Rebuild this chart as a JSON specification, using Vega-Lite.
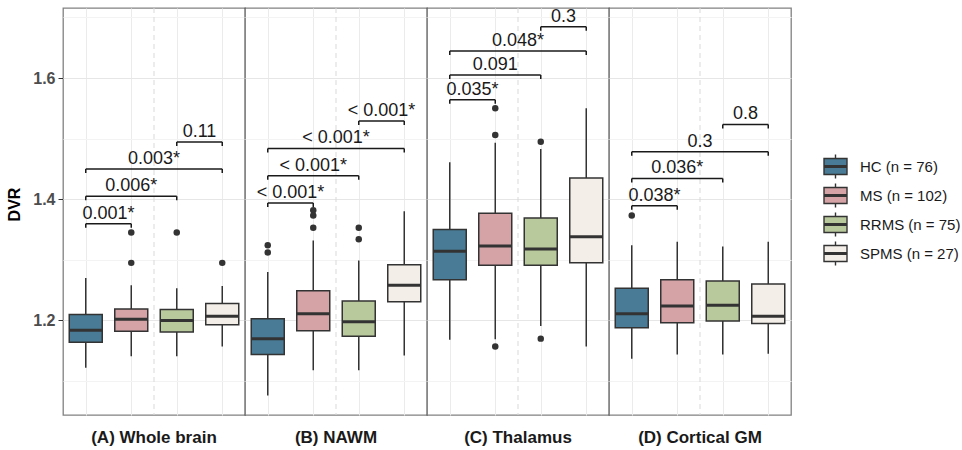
{
  "$schema": "https://vega.github.io/schema/vega-lite/v6.json",
  "background": "white",
  "padding": {"left": 6, "top": 6, "right": 0, "bottom": 0},
  "bounds": "flush",
  "data": {"values": [
    {"region": "(A) Whole brain", "kind": "box", "group": "HC", "lower": 1.122, "q1": 1.164, "median": 1.184, "q3": 1.210, "upper": 1.270},
    {"region": "(A) Whole brain", "kind": "box", "group": "MS", "lower": 1.141, "q1": 1.182, "median": 1.202, "q3": 1.219, "upper": 1.258},
    {"region": "(A) Whole brain", "kind": "box", "group": "RRMS", "lower": 1.141, "q1": 1.181, "median": 1.200, "q3": 1.218, "upper": 1.253},
    {"region": "(A) Whole brain", "kind": "box", "group": "SPMS", "lower": 1.157, "q1": 1.193, "median": 1.207, "q3": 1.228, "upper": 1.257},
    {"region": "(B) NAWM", "kind": "box", "group": "HC", "lower": 1.076, "q1": 1.144, "median": 1.170, "q3": 1.203, "upper": 1.280},
    {"region": "(B) NAWM", "kind": "box", "group": "MS", "lower": 1.118, "q1": 1.183, "median": 1.211, "q3": 1.249, "upper": 1.332},
    {"region": "(B) NAWM", "kind": "box", "group": "RRMS", "lower": 1.118, "q1": 1.174, "median": 1.198, "q3": 1.232, "upper": 1.299},
    {"region": "(B) NAWM", "kind": "box", "group": "SPMS", "lower": 1.142, "q1": 1.231, "median": 1.258, "q3": 1.292, "upper": 1.380},
    {"region": "(C) Thalamus", "kind": "box", "group": "HC", "lower": 1.168, "q1": 1.267, "median": 1.314, "q3": 1.350, "upper": 1.461},
    {"region": "(C) Thalamus", "kind": "box", "group": "MS", "lower": 1.169, "q1": 1.291, "median": 1.323, "q3": 1.377, "upper": 1.493},
    {"region": "(C) Thalamus", "kind": "box", "group": "RRMS", "lower": 1.191, "q1": 1.291, "median": 1.318, "q3": 1.369, "upper": 1.483},
    {"region": "(C) Thalamus", "kind": "box", "group": "SPMS", "lower": 1.157, "q1": 1.295, "median": 1.338, "q3": 1.435, "upper": 1.550},
    {"region": "(D) Cortical GM", "kind": "box", "group": "HC", "lower": 1.137, "q1": 1.188, "median": 1.211, "q3": 1.253, "upper": 1.324},
    {"region": "(D) Cortical GM", "kind": "box", "group": "MS", "lower": 1.144, "q1": 1.196, "median": 1.224, "q3": 1.267, "upper": 1.330},
    {"region": "(D) Cortical GM", "kind": "box", "group": "RRMS", "lower": 1.144, "q1": 1.199, "median": 1.225, "q3": 1.265, "upper": 1.322},
    {"region": "(D) Cortical GM", "kind": "box", "group": "SPMS", "lower": 1.145, "q1": 1.195, "median": 1.207, "q3": 1.260, "upper": 1.330},
    {"region": "(A) Whole brain", "kind": "out", "group": "MS", "value": 1.345},
    {"region": "(A) Whole brain", "kind": "out", "group": "MS", "value": 1.295},
    {"region": "(A) Whole brain", "kind": "out", "group": "RRMS", "value": 1.345},
    {"region": "(A) Whole brain", "kind": "out", "group": "SPMS", "value": 1.295},
    {"region": "(B) NAWM", "kind": "out", "group": "HC", "value": 1.324},
    {"region": "(B) NAWM", "kind": "out", "group": "HC", "value": 1.312},
    {"region": "(B) NAWM", "kind": "out", "group": "MS", "value": 1.382},
    {"region": "(B) NAWM", "kind": "out", "group": "MS", "value": 1.373},
    {"region": "(B) NAWM", "kind": "out", "group": "MS", "value": 1.353},
    {"region": "(B) NAWM", "kind": "out", "group": "RRMS", "value": 1.353},
    {"region": "(B) NAWM", "kind": "out", "group": "RRMS", "value": 1.334},
    {"region": "(C) Thalamus", "kind": "out", "group": "MS", "value": 1.550},
    {"region": "(C) Thalamus", "kind": "out", "group": "MS", "value": 1.506},
    {"region": "(C) Thalamus", "kind": "out", "group": "MS", "value": 1.157},
    {"region": "(C) Thalamus", "kind": "out", "group": "RRMS", "value": 1.495},
    {"region": "(C) Thalamus", "kind": "out", "group": "RRMS", "value": 1.170},
    {"region": "(D) Cortical GM", "kind": "out", "group": "HC", "value": 1.373},
    {"region": "(A) Whole brain", "kind": "br", "g1": "HC", "g2": "MS", "mid": "HC|MS", "y": 1.3595, "label": "0.001*"},
    {"region": "(A) Whole brain", "kind": "br", "g1": "HC", "g2": "RRMS", "mid": "MS", "y": 1.405, "label": "0.006*"},
    {"region": "(A) Whole brain", "kind": "br", "g1": "HC", "g2": "SPMS", "mid": "MS|RRMS", "y": 1.4497, "label": "0.003*"},
    {"region": "(A) Whole brain", "kind": "br", "g1": "RRMS", "g2": "SPMS", "mid": "RRMS|SPMS", "y": 1.4943, "label": "0.11"},
    {"region": "(B) NAWM", "kind": "br", "g1": "HC", "g2": "MS", "mid": "HC|MS", "y": 1.3936, "label": "< 0.001*"},
    {"region": "(B) NAWM", "kind": "br", "g1": "HC", "g2": "RRMS", "mid": "MS", "y": 1.4387, "label": "< 0.001*"},
    {"region": "(B) NAWM", "kind": "br", "g1": "HC", "g2": "SPMS", "mid": "MS|RRMS", "y": 1.4838, "label": "< 0.001*"},
    {"region": "(B) NAWM", "kind": "br", "g1": "RRMS", "g2": "SPMS", "mid": "RRMS|SPMS", "y": 1.5289, "label": "< 0.001*"},
    {"region": "(C) Thalamus", "kind": "br", "g1": "HC", "g2": "MS", "mid": "HC|MS", "y": 1.5641, "label": "0.035*"},
    {"region": "(C) Thalamus", "kind": "br", "g1": "HC", "g2": "RRMS", "mid": "MS", "y": 1.6048, "label": "0.091"},
    {"region": "(C) Thalamus", "kind": "br", "g1": "HC", "g2": "SPMS", "mid": "MS|RRMS", "y": 1.6444, "label": "0.048*"},
    {"region": "(C) Thalamus", "kind": "br", "g1": "RRMS", "g2": "SPMS", "mid": "RRMS|SPMS", "y": 1.6846, "label": "0.3"},
    {"region": "(D) Cortical GM", "kind": "br", "g1": "HC", "g2": "MS", "mid": "HC|MS", "y": 1.3892, "label": "0.038*"},
    {"region": "(D) Cortical GM", "kind": "br", "g1": "HC", "g2": "RRMS", "mid": "MS", "y": 1.4343, "label": "0.036*"},
    {"region": "(D) Cortical GM", "kind": "br", "g1": "HC", "g2": "SPMS", "mid": "MS|RRMS", "y": 1.4783, "label": "0.3"},
    {"region": "(D) Cortical GM", "kind": "br", "g1": "RRMS", "g2": "SPMS", "mid": "RRMS|SPMS", "y": 1.5234, "label": "0.8"}
  ]},
  "facet": {"column": {"field": "region", "type": "nominal", "title": null,
    "header": {"labelOrient": "bottom", "labelFontSize": 17, "labelFontWeight": "bold", "labelColor": "#1a1a1a", "labelPadding": 15}}},
  "spacing": 0,
  "spec": {
    "width": 182,
    "height": 407,
    "layer": [
      {
        "transform": [{"filter": "datum.kind == 'box'"}],
        "mark": {"type": "rule", "color": "#333333", "strokeWidth": 1.5},
        "encoding": {
          "x": {"field": "group", "type": "nominal",
            "scale": {"type": "point", "domain": ["HC", "HC|MS", "MS", "MS|RRMS", "RRMS", "RRMS|SPMS", "SPMS"], "padding": 1.2},
            "axis": {"values": ["HC", "MS", "RRMS", "SPMS"], "labels": false, "ticks": false, "domain": false, "title": null, "grid": true, "gridColor": "#ebebeb", "gridWidth": 1}},
          "y": {"field": "lower", "type": "quantitative",
            "scale": {"domain": [1.044, 1.7155], "nice": false, "zero": false},
            "axis": {"title": "DVR", "values": [1.1, 1.2, 1.3, 1.4, 1.5, 1.6, 1.7],
              "labelExpr": "round(datum.value * 10) % 2 == 0 ? format(datum.value, '.1f') : ''",
              "tickOpacity": {"condition": {"test": "round(datum.value * 10) % 2 == 0", "value": 1}, "value": 0},
              "gridColor": {"condition": {"test": "round(datum.value * 10) % 2 == 0", "value": "#e6e6e6"}, "value": "#f3f3f3"},
              "domain": false, "tickSize": 5, "tickColor": "#333333", "labelPadding": 3,
              "labelFontSize": 16, "labelFontWeight": "bold", "labelColor": "#4d4d4d",
              "titleFontSize": 16, "titleFontWeight": "bold", "titleColor": "#000000", "titlePadding": 10, "titleY": 196}},
          "y2": {"field": "upper"}
        }
      },
      {
        "transform": [{"filter": "datum.kind == 'box' && datum.group == 'HC'"}],
        "mark": {"type": "rule", "color": "#d9d9d9", "strokeDash": [5, 4], "strokeWidth": 1},
        "encoding": {
          "x": {"datum": "MS|RRMS", "type": "nominal",
            "scale": {"type": "point", "domain": ["HC", "HC|MS", "MS", "MS|RRMS", "RRMS", "RRMS|SPMS", "SPMS"], "padding": 1.2},
            "axis": {"values": ["HC", "MS", "RRMS", "SPMS"], "labels": false, "ticks": false, "domain": false, "title": null, "grid": true, "gridColor": "#ebebeb", "gridWidth": 1}}
        }
      },
      {
        "transform": [{"filter": "datum.kind == 'box'"}],
        "mark": {"type": "bar", "width": 33, "stroke": "#333333", "strokeWidth": 1.5},
        "encoding": {
          "x": {"field": "group", "type": "nominal",
            "scale": {"type": "point", "domain": ["HC", "HC|MS", "MS", "MS|RRMS", "RRMS", "RRMS|SPMS", "SPMS"], "padding": 1.2},
            "axis": {"values": ["HC", "MS", "RRMS", "SPMS"], "labels": false, "ticks": false, "domain": false, "title": null, "grid": true, "gridColor": "#ebebeb", "gridWidth": 1}},
          "y": {"field": "q1", "type": "quantitative",
            "scale": {"domain": [1.044, 1.7155], "nice": false, "zero": false},
            "axis": {"title": "DVR", "values": [1.1, 1.2, 1.3, 1.4, 1.5, 1.6, 1.7],
              "labelExpr": "round(datum.value * 10) % 2 == 0 ? format(datum.value, '.1f') : ''",
              "tickOpacity": {"condition": {"test": "round(datum.value * 10) % 2 == 0", "value": 1}, "value": 0},
              "gridColor": {"condition": {"test": "round(datum.value * 10) % 2 == 0", "value": "#e6e6e6"}, "value": "#f3f3f3"},
              "domain": false, "tickSize": 5, "tickColor": "#333333", "labelPadding": 3,
              "labelFontSize": 16, "labelFontWeight": "bold", "labelColor": "#4d4d4d",
              "titleFontSize": 16, "titleFontWeight": "bold", "titleColor": "#000000", "titlePadding": 10, "titleY": 196}},
          "y2": {"field": "q3"},
          "fill": {"field": "group", "type": "nominal",
            "scale": {"domain": ["HC", "MS", "RRMS", "SPMS"], "range": ["#497b96", "#d5a3a6", "#b8c99c", "#f3efe8"]},
            "legend": {"orient": "none", "legendX": 760, "legendY": 146, "title": null, "padding": 0,
              "symbolType": "M-1,-0.7L1,-0.7L1,0.7L-1,0.7Z M-1,-0.06L1,-0.06L1,0.06L-1,0.06Z M0,-0.7L0,-1.05 M0,0.7L0,1.05",
              "symbolSize": 529, "symbolStrokeColor": "#333333", "symbolStrokeWidth": 1.4, "symbolOpacity": 1,
              "labelFontSize": 15, "labelColor": "#1a1a1a", "labelOffset": 12, "rowPadding": -2,
              "labelExpr": "{'HC': 'HC (n = 76)', 'MS': 'MS (n = 102)', 'RRMS': 'RRMS (n = 75)', 'SPMS': 'SPMS (n = 27)'}[datum.label]"}}
        }
      },
      {
        "transform": [{"filter": "datum.kind == 'box'"}],
        "mark": {"type": "tick", "size": 33, "thickness": 3, "color": "#333333", "opacity": 1},
        "encoding": {
          "x": {"field": "group", "type": "nominal",
            "scale": {"type": "point", "domain": ["HC", "HC|MS", "MS", "MS|RRMS", "RRMS", "RRMS|SPMS", "SPMS"], "padding": 1.2},
            "axis": {"values": ["HC", "MS", "RRMS", "SPMS"], "labels": false, "ticks": false, "domain": false, "title": null, "grid": true, "gridColor": "#ebebeb", "gridWidth": 1}},
          "y": {"field": "median", "type": "quantitative",
            "scale": {"domain": [1.044, 1.7155], "nice": false, "zero": false},
            "axis": {"title": "DVR", "values": [1.1, 1.2, 1.3, 1.4, 1.5, 1.6, 1.7],
              "labelExpr": "round(datum.value * 10) % 2 == 0 ? format(datum.value, '.1f') : ''",
              "tickOpacity": {"condition": {"test": "round(datum.value * 10) % 2 == 0", "value": 1}, "value": 0},
              "gridColor": {"condition": {"test": "round(datum.value * 10) % 2 == 0", "value": "#e6e6e6"}, "value": "#f3f3f3"},
              "domain": false, "tickSize": 5, "tickColor": "#333333", "labelPadding": 3,
              "labelFontSize": 16, "labelFontWeight": "bold", "labelColor": "#4d4d4d",
              "titleFontSize": 16, "titleFontWeight": "bold", "titleColor": "#000000", "titlePadding": 10, "titleY": 196}}
        }
      },
      {
        "transform": [{"filter": "datum.kind == 'out'"}],
        "mark": {"type": "circle", "size": 42, "color": "#333333", "opacity": 1},
        "encoding": {
          "x": {"field": "group", "type": "nominal",
            "scale": {"type": "point", "domain": ["HC", "HC|MS", "MS", "MS|RRMS", "RRMS", "RRMS|SPMS", "SPMS"], "padding": 1.2},
            "axis": {"values": ["HC", "MS", "RRMS", "SPMS"], "labels": false, "ticks": false, "domain": false, "title": null, "grid": true, "gridColor": "#ebebeb", "gridWidth": 1}},
          "y": {"field": "value", "type": "quantitative",
            "scale": {"domain": [1.044, 1.7155], "nice": false, "zero": false},
            "axis": {"title": "DVR", "values": [1.1, 1.2, 1.3, 1.4, 1.5, 1.6, 1.7],
              "labelExpr": "round(datum.value * 10) % 2 == 0 ? format(datum.value, '.1f') : ''",
              "tickOpacity": {"condition": {"test": "round(datum.value * 10) % 2 == 0", "value": 1}, "value": 0},
              "gridColor": {"condition": {"test": "round(datum.value * 10) % 2 == 0", "value": "#e6e6e6"}, "value": "#f3f3f3"},
              "domain": false, "tickSize": 5, "tickColor": "#333333", "labelPadding": 3,
              "labelFontSize": 16, "labelFontWeight": "bold", "labelColor": "#4d4d4d",
              "titleFontSize": 16, "titleFontWeight": "bold", "titleColor": "#000000", "titlePadding": 10, "titleY": 196}}
        }
      },
      {
        "transform": [{"filter": "datum.kind == 'br'"}],
        "mark": {"type": "rule", "color": "#1a1a1a", "strokeWidth": 1.5},
        "encoding": {
          "x": {"field": "g1", "type": "nominal",
            "scale": {"type": "point", "domain": ["HC", "HC|MS", "MS", "MS|RRMS", "RRMS", "RRMS|SPMS", "SPMS"], "padding": 1.2},
            "axis": {"values": ["HC", "MS", "RRMS", "SPMS"], "labels": false, "ticks": false, "domain": false, "title": null, "grid": true, "gridColor": "#ebebeb", "gridWidth": 1}},
          "x2": {"field": "g2"},
          "y": {"field": "y", "type": "quantitative",
            "scale": {"domain": [1.044, 1.7155], "nice": false, "zero": false},
            "axis": {"title": "DVR", "values": [1.1, 1.2, 1.3, 1.4, 1.5, 1.6, 1.7],
              "labelExpr": "round(datum.value * 10) % 2 == 0 ? format(datum.value, '.1f') : ''",
              "tickOpacity": {"condition": {"test": "round(datum.value * 10) % 2 == 0", "value": 1}, "value": 0},
              "gridColor": {"condition": {"test": "round(datum.value * 10) % 2 == 0", "value": "#e6e6e6"}, "value": "#f3f3f3"},
              "domain": false, "tickSize": 5, "tickColor": "#333333", "labelPadding": 3,
              "labelFontSize": 16, "labelFontWeight": "bold", "labelColor": "#4d4d4d",
              "titleFontSize": 16, "titleFontWeight": "bold", "titleColor": "#000000", "titlePadding": 10, "titleY": 196}}
        }
      },
      {
        "transform": [{"filter": "datum.kind == 'br'"}],
        "mark": {"type": "rule", "color": "#1a1a1a", "strokeWidth": 1.5, "y2Offset": 4},
        "encoding": {
          "x": {"field": "g1", "type": "nominal",
            "scale": {"type": "point", "domain": ["HC", "HC|MS", "MS", "MS|RRMS", "RRMS", "RRMS|SPMS", "SPMS"], "padding": 1.2},
            "axis": {"values": ["HC", "MS", "RRMS", "SPMS"], "labels": false, "ticks": false, "domain": false, "title": null, "grid": true, "gridColor": "#ebebeb", "gridWidth": 1}},
          "y": {"field": "y", "type": "quantitative",
            "scale": {"domain": [1.044, 1.7155], "nice": false, "zero": false},
            "axis": {"title": "DVR", "values": [1.1, 1.2, 1.3, 1.4, 1.5, 1.6, 1.7],
              "labelExpr": "round(datum.value * 10) % 2 == 0 ? format(datum.value, '.1f') : ''",
              "tickOpacity": {"condition": {"test": "round(datum.value * 10) % 2 == 0", "value": 1}, "value": 0},
              "gridColor": {"condition": {"test": "round(datum.value * 10) % 2 == 0", "value": "#e6e6e6"}, "value": "#f3f3f3"},
              "domain": false, "tickSize": 5, "tickColor": "#333333", "labelPadding": 3,
              "labelFontSize": 16, "labelFontWeight": "bold", "labelColor": "#4d4d4d",
              "titleFontSize": 16, "titleFontWeight": "bold", "titleColor": "#000000", "titlePadding": 10, "titleY": 196}},
          "y2": {"field": "y"}
        }
      },
      {
        "transform": [{"filter": "datum.kind == 'br'"}],
        "mark": {"type": "rule", "color": "#1a1a1a", "strokeWidth": 1.5, "y2Offset": 4},
        "encoding": {
          "x": {"field": "g2", "type": "nominal",
            "scale": {"type": "point", "domain": ["HC", "HC|MS", "MS", "MS|RRMS", "RRMS", "RRMS|SPMS", "SPMS"], "padding": 1.2},
            "axis": {"values": ["HC", "MS", "RRMS", "SPMS"], "labels": false, "ticks": false, "domain": false, "title": null, "grid": true, "gridColor": "#ebebeb", "gridWidth": 1}},
          "y": {"field": "y", "type": "quantitative",
            "scale": {"domain": [1.044, 1.7155], "nice": false, "zero": false},
            "axis": {"title": "DVR", "values": [1.1, 1.2, 1.3, 1.4, 1.5, 1.6, 1.7],
              "labelExpr": "round(datum.value * 10) % 2 == 0 ? format(datum.value, '.1f') : ''",
              "tickOpacity": {"condition": {"test": "round(datum.value * 10) % 2 == 0", "value": 1}, "value": 0},
              "gridColor": {"condition": {"test": "round(datum.value * 10) % 2 == 0", "value": "#e6e6e6"}, "value": "#f3f3f3"},
              "domain": false, "tickSize": 5, "tickColor": "#333333", "labelPadding": 3,
              "labelFontSize": 16, "labelFontWeight": "bold", "labelColor": "#4d4d4d",
              "titleFontSize": 16, "titleFontWeight": "bold", "titleColor": "#000000", "titlePadding": 10, "titleY": 196}},
          "y2": {"field": "y"}
        }
      },
      {
        "transform": [{"filter": "datum.kind == 'br'"}],
        "mark": {"type": "text", "fontSize": 18, "color": "#1a1a1a", "baseline": "alphabetic", "align": "center", "dy": -5},
        "encoding": {
          "x": {"field": "mid", "type": "nominal",
            "scale": {"type": "point", "domain": ["HC", "HC|MS", "MS", "MS|RRMS", "RRMS", "RRMS|SPMS", "SPMS"], "padding": 1.2},
            "axis": {"values": ["HC", "MS", "RRMS", "SPMS"], "labels": false, "ticks": false, "domain": false, "title": null, "grid": true, "gridColor": "#ebebeb", "gridWidth": 1}},
          "y": {"field": "y", "type": "quantitative",
            "scale": {"domain": [1.044, 1.7155], "nice": false, "zero": false},
            "axis": {"title": "DVR", "values": [1.1, 1.2, 1.3, 1.4, 1.5, 1.6, 1.7],
              "labelExpr": "round(datum.value * 10) % 2 == 0 ? format(datum.value, '.1f') : ''",
              "tickOpacity": {"condition": {"test": "round(datum.value * 10) % 2 == 0", "value": 1}, "value": 0},
              "gridColor": {"condition": {"test": "round(datum.value * 10) % 2 == 0", "value": "#e6e6e6"}, "value": "#f3f3f3"},
              "domain": false, "tickSize": 5, "tickColor": "#333333", "labelPadding": 3,
              "labelFontSize": 16, "labelFontWeight": "bold", "labelColor": "#4d4d4d",
              "titleFontSize": 16, "titleFontWeight": "bold", "titleColor": "#000000", "titlePadding": 10, "titleY": 196}},
          "text": {"field": "label", "type": "nominal"}
        }
      }
    ]
  },
  "config": {
    "font": "Liberation Sans",
    "view": {"stroke": "#1a1a1a", "strokeOpacity": 0.55, "strokeWidth": 1.3, "fill": "white"}
  }
}
